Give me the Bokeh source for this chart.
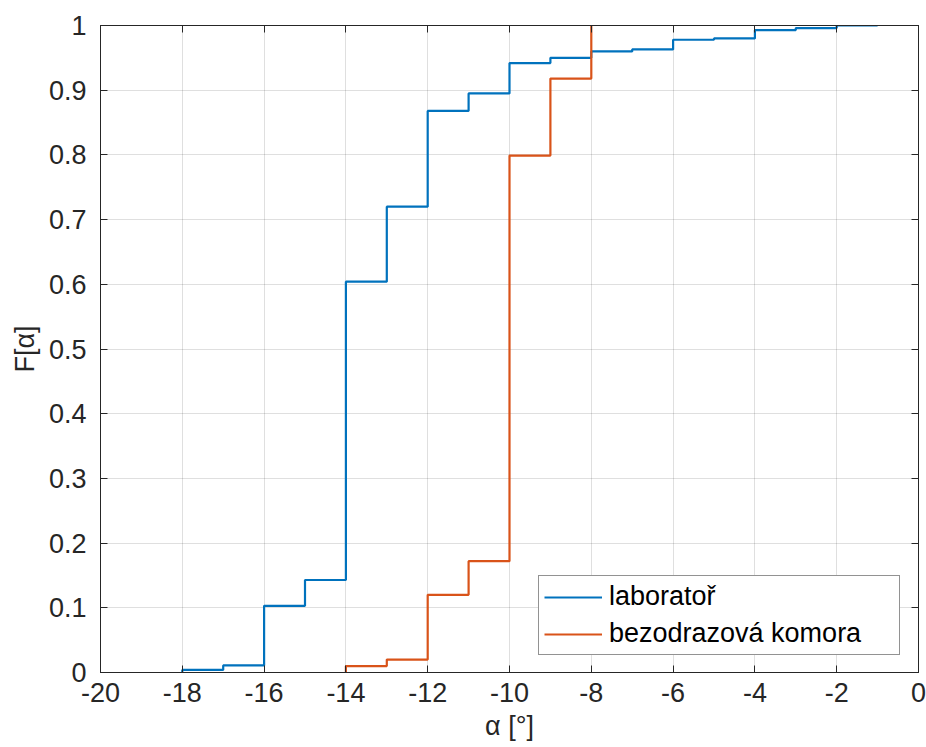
from bokeh.plotting import figure
from bokeh.models import (LinearAxis, FixedTicker, CustomJSTickFormatter, Legend,
                          LegendItem, Range1d)
from bokeh.embed import file_html
from bokeh.resources import INLINE

# Empirical CDF of the angle alpha: step edges and the value after each edge
lab_edges = [-18, -17, -16, -15, -14, -13, -12, -11, -10, -9, -8, -7, -6, -5, -4, -3, -2]
lab_F = [0.004, 0.011, 0.103, 0.143, 0.604, 0.720, 0.868, 0.895, 0.942, 0.950,
         0.960, 0.963, 0.978, 0.980, 0.993, 0.996, 1.0]
lab_end = -1

kom_edges = [-14, -13, -12, -11, -10, -9, -8]
kom_F = [0.010, 0.020, 0.120, 0.172, 0.799, 0.918, 1.0]
kom_end = -8

x_ticks = [-20, -18, -16, -14, -12, -10, -8, -6, -4, -2, 0]
y_ticks = [0, 0.1, 0.2, 0.3, 0.4, 0.5, 0.6, 0.7, 0.8, 0.9, 1.0]

series_names = ["laboratoř", "bezodrazová komora"]
x_title = "α [°]"
y_title = "F[α]"
colors = ["#0072BD", "#D95319"]
TXT = "#262626"
FONT = "Liberation Sans"


def stairs(edges, F, end):
    xs, ys = [edges[0]], [0.0]
    for i, e in enumerate(edges):
        nxt = edges[i + 1] if i + 1 < len(edges) else end
        xs += [e, nxt]
        ys += [F[i], F[i]]
    return xs, ys


p = figure(width=926, height=747, output_backend="svg", toolbar_location=None,
           x_range=Range1d(-20, 0), y_range=Range1d(0, 1),
           min_border_left=100, min_border_right=8, min_border_top=25,
           min_border_bottom=75, background_fill_color="white",
           border_fill_color="white", outline_line_color=TXT, outline_line_width=1)

renderers = []
for (edges, F, end), col in zip([(lab_edges, lab_F, lab_end), (kom_edges, kom_F, kom_end)], colors):
    xs, ys = stairs(edges, F, end)
    renderers.append(p.line(xs, ys, line_color=col, line_width=2.2))

fmt = CustomJSTickFormatter(code="return (Math.round(tick*10)/10).toString();")

for ax in p.xaxis:
    ax.ticker = FixedTicker(ticks=x_ticks)
    ax.major_label_standoff = 10
    ax.axis_label = x_title
    ax.axis_label_standoff = 6
for ax in p.yaxis:
    ax.ticker = FixedTicker(ticks=y_ticks)
    ax.major_label_standoff = 14
    ax.axis_label = y_title
    ax.axis_label_standoff = 6

for ax in p.xaxis + p.yaxis:
    ax.formatter = fmt
    ax.major_label_text_font = FONT
    ax.major_label_text_font_size = "27px"
    ax.major_label_text_color = TXT
    ax.axis_label_text_font = FONT
    ax.axis_label_text_font_size = "27px"
    ax.axis_label_text_font_style = "normal"
    ax.axis_label_text_color = TXT
    ax.axis_line_color = TXT
    ax.major_tick_line_color = TXT
    ax.major_tick_in = 7
    ax.major_tick_out = 0
    ax.minor_tick_line_color = None

# box ticks on top and right, no labels
top = LinearAxis(ticker=FixedTicker(ticks=x_ticks), major_label_text_font_size="0px",
                 major_label_text_color=None,
                 major_tick_in=7, major_tick_out=0, minor_tick_line_color=None,
                 axis_line_color=TXT, major_tick_line_color=TXT, major_label_standoff=0)
right = LinearAxis(ticker=FixedTicker(ticks=y_ticks), major_label_text_font_size="0px",
                   major_label_text_color=None,
                   major_tick_in=7, major_tick_out=0, minor_tick_line_color=None,
                   axis_line_color=TXT, major_tick_line_color=TXT, major_label_standoff=0)
p.add_layout(top, "above")
p.add_layout(right, "right")

p.xgrid.ticker = FixedTicker(ticks=x_ticks)
p.ygrid.ticker = FixedTicker(ticks=y_ticks)
p.grid.grid_line_color = TXT
p.grid.grid_line_alpha = 0.15

legend = Legend(items=[LegendItem(label=n, renderers=[r]) for n, r in zip(series_names, renderers)],
                location=(438, 17), label_text_font=FONT, label_text_font_size="27px",
                label_text_color="black", glyph_width=58, glyph_height=30,
                label_height=30, label_width=285, label_standoff=7, spacing=6,
                padding=5, margin=0, border_line_color=TXT, border_line_width=1,
                background_fill_alpha=1)
p.add_layout(legend, "center")

open("out.html", "w").write(file_html(p, INLINE))
